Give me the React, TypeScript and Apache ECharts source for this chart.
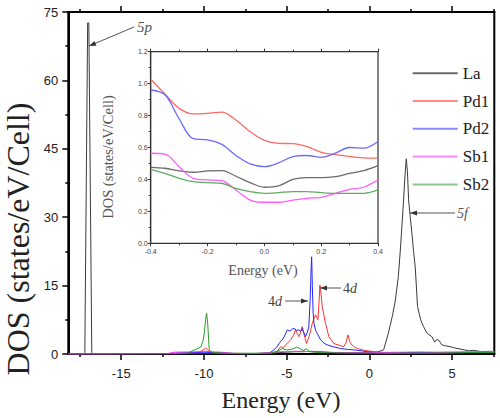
import React, { useEffect, useRef } from 'react';
import * as echarts from 'echarts';

// ---------- main panel data (Energy eV, DOS states/eV/Cell) ----------
const laMain: [number, number][] = [
  [-18.2, 0], [-17.25, 0], [-17.2, 0.3], [-17.03, 72.6], [-16.96, 72.6], [-16.78, 0.3], [-16.7, 0],
  [-12, 0.05], [-9.9, 0.15], [-9.6, 0.05], [-6, 0.1], [-5.5, 0.3], [-5, 0.4], [-4.5, 0.5], [-4, 0.5],
  [-3.5, 0.6], [-3, 0.5], [-2.5, 0.4], [-2, 0.3], [-1.5, 0.3], [-1, 0.3], [-0.5, 0.3], [0, 0.35],
  [0.5, 0.45], [0.86, 0.9], [1.15, 4.6], [1.4, 8.5], [1.57, 11.8], [1.75, 17], [1.87, 22.8],
  [2.03, 31.6], [2.15, 39], [2.23, 42.8], [2.3, 40], [2.37, 33.8], [2.47, 30], [2.57, 26.5],
  [2.67, 22.5], [2.77, 19.1], [2.91, 10.4], [3.1, 7.5], [3.27, 6], [3.5, 4.5], [3.78, 3.8],
  [3.95, 2.6], [4.08, 3.2], [4.2, 3.0], [4.38, 2.0], [4.6, 1.8], [4.88, 1.6], [5.2, 1.3],
  [5.6, 1.0], [6.0, 0.7], [6.3, 0.8], [6.8, 0.5], [7.2, 0.6], [7.55, 0.5],
];
const pd1Main: [number, number][] = [
  [-18.2, 0], [-12, 0.05], [-11, 0.2], [-10.3, 0.4], [-10.05, 0.9], [-9.9, 1.3], [-9.75, 0.8],
  [-9.5, 0.3], [-8.5, 0.15], [-7, 0.1], [-6, 0.2], [-5.6, 0.5], [-5.36, 1.6], [-5.2, 1.4],
  [-5.06, 2.0], [-4.9, 2.6], [-4.76, 3.1], [-4.6, 4.0], [-4.46, 5.3], [-4.36, 4.5], [-4.26, 3.8],
  [-4.16, 4.8], [-4.06, 6.0], [-3.93, 4.0], [-3.8, 2.3], [-3.65, 3.8], [-3.45, 6.7], [-3.35, 7.8],
  [-3.25, 8.6], [-3.18, 8.0], [-3.11, 7.5], [-3.05, 11], [-2.99, 15.1], [-2.92, 13], [-2.85, 10.4],
  [-2.75, 8.5], [-2.65, 6.7], [-2.45, 3.8], [-2.15, 2.3], [-1.8, 1.9], [-1.55, 1.6], [-1.4, 2.6],
  [-1.3, 4.2], [-1.2, 3.0], [-1.14, 2.3], [-0.9, 1.5], [-0.74, 1.2], [-0.3, 0.8], [0.26, 0.5],
  [1, 0.3], [2, 0.25], [3, 0.2], [4, 0.25], [5, 0.3], [6, 0.3], [7, 0.4], [7.55, 0.4],
];
const pd2Main: [number, number][] = [
  [-18.2, 0], [-12.2, 0.05], [-11.5, 0.25], [-10.5, 0.3], [-10, 0.4], [-9.5, 0.3], [-8.8, 0.2],
  [-7.5, 0.05], [-6.5, 0.1], [-6, 0.3], [-5.78, 0.9], [-5.6, 1.5], [-5.46, 2.3], [-5.36, 2.8],
  [-5.26, 3.1], [-5.1, 4.2], [-4.96, 5.3], [-4.8, 5.0], [-4.66, 5.5], [-4.56, 5.6], [-4.4, 5.2],
  [-4.26, 5.3], [-4.16, 4.9], [-4.06, 5.6], [-3.95, 4.6], [-3.86, 3.8], [-3.75, 4.8], [-3.66, 6.0],
  [-3.58, 12], [-3.52, 19], [-3.49, 21.3], [-3.45, 15], [-3.4, 9], [-3.35, 6.7], [-3.25, 5.2],
  [-3.15, 4.5], [-2.95, 3.1], [-2.75, 2.4], [-2.55, 2.0], [-2.2, 1.6], [-1.75, 1.2], [-1.3, 1.0],
  [-0.94, 0.9], [-0.5, 0.7], [-0.14, 0.5], [0.5, 0.3], [1.5, 0.2], [2.5, 0.3], [3.5, 0.3],
  [4.5, 0.2], [5.5, 0.3], [6.5, 0.3], [7.55, 0.4],
];
const sb1Main: [number, number][] = [
  [-18.2, 0], [-12.2, 0.1], [-11.8, 0.4], [-11, 0.45], [-10.3, 0.5], [-10, 0.6], [-9.6, 0.5],
  [-9, 0.4], [-8.6, 0.3], [-8.2, 0.05], [-6.8, 0.1], [-6.2, 0.3], [-5.5, 0.5], [-5, 0.5],
  [-4.5, 0.6], [-4, 0.6], [-3.5, 0.5], [-3, 0.4], [-2.5, 0.35], [-2, 0.3], [-1, 0.3], [0, 0.3],
  [1, 0.35], [2, 0.4], [3, 0.45], [4, 0.4], [5, 0.45], [6, 0.5], [7, 0.5], [7.55, 0.55],
];
const sb2Main: [number, number][] = [
  [-18.2, 0.05], [-12, 0.1], [-11, 0.15], [-10.58, 0.9], [-10.35, 1.2], [-10.18, 1.6], [-10.05, 3],
  [-9.98, 4.6], [-9.9, 7.5], [-9.84, 9.0], [-9.78, 7], [-9.74, 4.6], [-9.68, 0.9], [-9.5, 0.3],
  [-8.5, 0.15], [-6, 0.2], [-5.6, 0.5], [-5.26, 1.2], [-5.0, 0.9], [-4.7, 1.0], [-4.4, 1.5],
  [-4.2, 1.2], [-4.0, 0.8], [-3.8, 1.1], [-3.6, 0.5], [-3, 0.3], [-2, 0.25], [-1, 0.2], [0, 0.2],
  [1, 0.15], [2, 0.2], [3, 0.2], [4, 0.2], [5, 0.25], [6, 0.3], [7.55, 0.3],
];

// ---------- inset data (near Fermi level) ----------
const insetEnergy = [-0.4, -0.35, -0.3, -0.25, -0.2, -0.15, -0.1, -0.05, 0, 0.05, 0.1, 0.15, 0.2, 0.25, 0.3, 0.35, 0.4];
const laInset = [0.476, 0.47, 0.453, 0.445, 0.453, 0.455, 0.42, 0.38, 0.351, 0.359, 0.4, 0.411, 0.411, 0.417, 0.438, 0.455, 0.486];
const pd1Inset = [1.027, 0.935, 0.845, 0.81, 0.814, 0.822, 0.772, 0.699, 0.645, 0.626, 0.624, 0.605, 0.57, 0.555, 0.544, 0.535, 0.533];
const pd2Inset = [0.96, 0.93, 0.78, 0.655, 0.648, 0.62, 0.55, 0.497, 0.48, 0.503, 0.543, 0.55, 0.538, 0.565, 0.6, 0.596, 0.638];
const sb1Inset = [0.564, 0.559, 0.48, 0.407, 0.397, 0.392, 0.334, 0.271, 0.257, 0.257, 0.271, 0.282, 0.288, 0.313, 0.338, 0.351, 0.397];
const sb2Inset = [0.463, 0.438, 0.407, 0.386, 0.38, 0.376, 0.344, 0.324, 0.313, 0.317, 0.324, 0.324, 0.317, 0.313, 0.313, 0.313, 0.334];

const seriesNames = ['La', 'Pd1', 'Pd2', 'Sb1', 'Sb2'];
const majorX = [-15, -10, -5, 0, 5];
const minorX = [-17.5, -12.5, -7.5, -2.5, 2.5, 7.5];

const mainColors = ['#3a3a3a', '#ff3030', '#2424ff', '#ff2cff', '#2a9a2a'];
const insetColors = ['#6a6a6a', '#ff6868', '#6a6aff', '#ff5cff', '#5fae5f'];
const legendColors = ['#6a6a6a', '#ff8a8a', '#8a8aff', '#ff8aff', '#8cc88c'];

const X_MIN = -18.2;
const X_MAX = 7.55;

function arrowHead(tx: number, ty: number, fx: number, fy: number, len = 7, half = 2.6) {
  const dx = tx - fx, dy = ty - fy;
  const L = Math.hypot(dx, dy);
  const ux = dx / L, uy = dy / L;
  const bx = tx - ux * len, by = ty - uy * len;
  return [[tx, ty], [bx - uy * half, by + ux * half], [bx + uy * half, by - ux * half]];
}

function arrow(fx: number, fy: number, tx: number, ty: number) {
  return [
    { type: 'line', z: 30, shape: { x1: fx, y1: fy, x2: tx, y2: ty }, style: { stroke: '#555', lineWidth: 1 } },
    { type: 'polygon', z: 30, shape: { points: arrowHead(tx, ty, fx, fy) }, style: { fill: '#333' } },
  ];
}

const legendText = { fontFamily: 'Liberation Serif', fontSize: 17, color: '#222', lineHeight: 14 };

export default function App() {
  const ref = useRef<HTMLDivElement>(null);
  useEffect(() => {
    const chart = echarts.init(ref.current!, null, { renderer: 'svg' });
    const mainData = [laMain, pd1Main, pd2Main, sb1Main, sb2Main];
    const insetData = [laInset, pd1Inset, pd2Inset, sb1Inset, sb2Inset];

    const axisLineMain = { show: true, onZero: false, lineStyle: { color: '#000', width: 2 } };
    const axisLineInset = { show: true, onZero: false, lineStyle: { color: '#333', width: 1.2 } };
    const mainXBase = { type: 'value', gridIndex: 0, min: X_MIN, max: X_MAX, splitLine: { show: false }, axisLine: axisLineMain };

    const insetLabel = { fontSize: 7, color: '#444', fontFamily: 'Liberation Sans' };

    const option: any = {
      animation: false,
      backgroundColor: '#fff',
      grid: [
        { left: 68.3, top: 12, right: 5.7, bottom: 64, show: true, borderColor: '#000', borderWidth: 2, outerBoundsMode: 'none' },
        { left: 150.7, top: 51.7, width: 227.3, height: 191.6, show: true, backgroundColor: '#fff', borderColor: '#333', borderWidth: 1.2, z: 8, outerBoundsMode: 'none' },
      ],
      legend: {
        orient: 'vertical',
        left: 412.7,
        top: 64.7,
        padding: 0,
        itemWidth: 45,
        itemHeight: 14,
        itemGap: 10.8,
        textStyle: legendText,
        data: seriesNames.map((n, i) => ({
          name: n,
          icon: 'path://M0,0 L45,0 L45,2 L0,2 Z',
          itemStyle: { color: legendColors[i] },
          textStyle: legendText,
        })),
      },
      xAxis: [
        {
          ...mainXBase, position: 'bottom',
          axisTick: { show: true, inside: false, length: 6, customValues: majorX, lineStyle: { color: '#000', width: 1.5 } },
          axisLabel: { show: true, customValues: majorX, margin: 13, fontSize: 13, color: '#222', fontFamily: 'Liberation Sans' },
        },
        {
          ...mainXBase, position: 'bottom',
          axisTick: { show: true, inside: false, length: 3, customValues: minorX, lineStyle: { color: '#000', width: 1.5 } },
          axisLabel: { show: false },
        },
        {
          ...mainXBase, position: 'top',
          axisTick: { show: true, inside: false, length: 6, customValues: majorX, lineStyle: { color: '#000', width: 1.5 } },
          axisLabel: { show: false },
        },
        {
          ...mainXBase, position: 'top',
          axisTick: { show: true, inside: false, length: 3, customValues: minorX, lineStyle: { color: '#000', width: 1.5 } },
          axisLabel: { show: false },
        },
        {
          type: 'value', gridIndex: 1, position: 'bottom', min: -0.4, max: 0.4, interval: 0.2, z: 10,
          splitLine: { show: false },
          axisLine: axisLineInset,
          axisTick: { show: true, inside: false, length: 3, lineStyle: { color: '#333' } },
          minorTick: { show: true, splitNumber: 2, length: 2, lineStyle: { color: '#333' } },
          axisLabel: { ...insetLabel, margin: 5, showMinLabel: true, showMaxLabel: true, formatter: (v: number) => v.toFixed(1) },
        },
        {
          type: 'value', gridIndex: 1, position: 'top', min: -0.4, max: 0.4, interval: 0.2, z: 10,
          splitLine: { show: false },
          axisLine: axisLineInset,
          axisTick: { show: true, inside: false, length: 3, lineStyle: { color: '#333' } },
          minorTick: { show: true, splitNumber: 2, length: 2, lineStyle: { color: '#333' } },
          axisLabel: { show: false },
        },
      ],
      yAxis: [
        {
          type: 'value', gridIndex: 0, min: 0, max: 75, interval: 15, position: 'left',
          splitLine: { show: false },
          axisLine: axisLineMain,
          axisTick: { show: true, inside: false, length: 6, lineStyle: { color: '#000', width: 1.5 } },
          minorTick: { show: true, splitNumber: 2, length: 3, lineStyle: { color: '#000', width: 1.5 } },
          axisLabel: { margin: 10, fontSize: 13, color: '#222', fontFamily: 'Liberation Sans' },
        },
        {
          type: 'value', gridIndex: 1, min: 0, max: 1.2, interval: 0.2, position: 'left', z: 10,
          splitLine: { show: false },
          axisLine: axisLineInset,
          axisTick: { show: true, inside: false, length: 3, lineStyle: { color: '#333' } },
          minorTick: { show: true, splitNumber: 2, length: 2, lineStyle: { color: '#333' } },
          axisLabel: { ...insetLabel, margin: 3, showMinLabel: true, showMaxLabel: true, formatter: (v: number) => v.toFixed(1) },
        },
      ],
      series: [
        ...seriesNames.map((n, i) => ({
          name: n, type: 'line', xAxisIndex: 0, yAxisIndex: 0, data: mainData[i],
          showSymbol: false, symbol: 'none', z: 3,
          lineStyle: { color: mainColors[i], width: 1 }, itemStyle: { color: legendColors[i] },
        })),
        ...seriesNames.map((n, i) => ({
          name: n, type: 'line', xAxisIndex: 4, yAxisIndex: 1,
          data: insetEnergy.map((e, k) => [e, insetData[i][k]]),
          showSymbol: false, symbol: 'none', smooth: 0.35, z: 12,
          lineStyle: { color: insetColors[i], width: 1.3 }, itemStyle: { color: legendColors[i] },
        })),
      ],
      graphic: [
        {
          type: 'text', z: 30, x: 18, y: 239, rotation: Math.PI / 2,
          style: { text: 'DOS (states/eV/Cell)', fontFamily: 'Liberation Serif', fontSize: 32, fill: '#222', align: 'center', verticalAlign: 'middle' },
        },
        {
          type: 'text', z: 30, x: 281, y: 400,
          style: { text: 'Energy (eV)', fontFamily: 'Liberation Serif', fontSize: 24, fill: '#222', align: 'center', verticalAlign: 'middle' },
        },
        {
          type: 'text', z: 30, x: 108, y: 157, rotation: Math.PI / 2,
          style: { text: 'DOS (states/eV/Cell)', fontFamily: 'Liberation Serif', fontSize: 14.5, fill: '#555', align: 'center', verticalAlign: 'middle' },
        },
        {
          type: 'text', z: 30, x: 263, y: 270,
          style: { text: 'Energy (eV)', fontFamily: 'Liberation Serif', fontSize: 14, fill: '#555', align: 'center', verticalAlign: 'middle' },
        },
        ...arrow(134, 27, 89, 46),
        {
          type: 'text', z: 30, x: 137, y: 27,
          style: { text: '5p', fontFamily: 'Liberation Serif', fontStyle: 'italic', fontSize: 15, fill: '#555', align: 'left', verticalAlign: 'middle' },
        },
        ...arrow(455, 213, 410, 213),
        {
          type: 'text', z: 30, x: 457, y: 213,
          style: { text: '5f', fontFamily: 'Liberation Serif', fontStyle: 'italic', fontSize: 14, fill: '#555', align: 'left', verticalAlign: 'middle' },
        },
        ...arrow(285, 301, 308, 301),
        {
          type: 'text', z: 30, x: 268, y: 301,
          style: { text: '4{i|d}', rich: { i: { fontStyle: 'italic', fontFamily: 'Liberation Serif', fontSize: 14, fill: '#444' } }, fontFamily: 'Liberation Serif', fontSize: 14, fill: '#444', align: 'left', verticalAlign: 'middle' },
        },
        ...arrow(341, 288, 320, 288),
        {
          type: 'text', z: 30, x: 343, y: 288,
          style: { text: '4{i|d}', rich: { i: { fontStyle: 'italic', fontFamily: 'Liberation Serif', fontSize: 14, fill: '#444' } }, fontFamily: 'Liberation Serif', fontSize: 14, fill: '#444', align: 'left', verticalAlign: 'middle' },
        },
      ],
    };
    chart.setOption(option);
    return () => chart.dispose();
  }, []);
  return <div ref={ref} style={{ position: 'absolute', left: 0, top: 0, width: 500, height: 418 }} />;
}
